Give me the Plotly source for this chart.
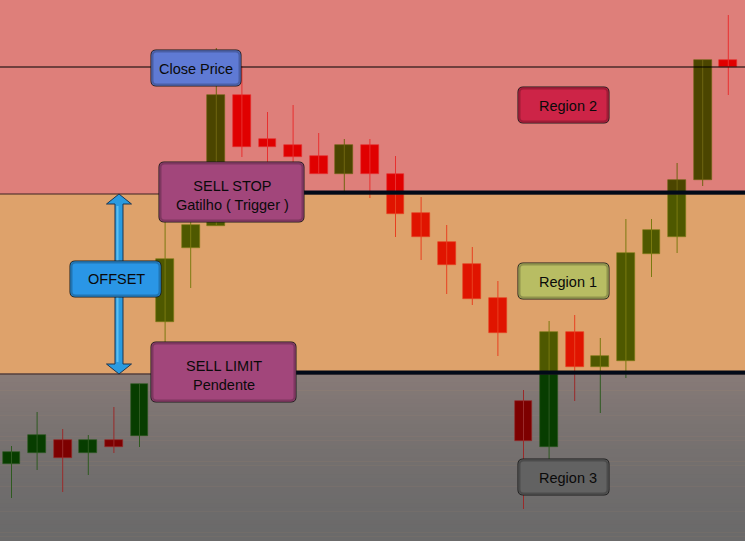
import plotly.graph_objects as go

W, H = 745, 541

# candle data, price units (1 unit ~ 1 px of the chart height)
opens = [77, 88, 101, 88, 101, 105, 219, 293, 315, 446, 402, 396, 385, 367, 396,
         367, 328, 299, 277, 243, 140, 94, 209, 174, 180, 287, 304, 361, 481]
highs = [95, 129, 112, 106, 134, 157, 326, 326, 493, 475, 429, 436, 408, 402, 402,
         385, 344, 316, 294, 260, 151, 220, 226, 203, 322, 322, 378, 481, 526]
lows = [43, 71, 49, 66, 88, 94, 199, 253, 315, 384, 376, 373, 367, 349, 343,
        304, 281, 247, 236, 185, 32, 82, 140, 128, 163, 264, 288, 355, 446]
closes = [89, 106, 83, 101, 94, 157, 282, 316, 446, 394, 394, 384, 367, 396, 367,
          327, 304, 276, 242, 208, 100, 209, 174, 185, 288, 311, 361, 481, 474]

CLOSE_PRICE = 474
SELL_STOP = 347
SELL_LIMIT = 167
TOP = 541

# region: low, high, bull body, bull wick, bear body, bear wick
regions = [
    (SELL_STOP, TOP, "#4b4500", "#6e6410", "#e00000", "#e83030"),
    (SELL_LIMIT, SELL_STOP, "#4e5800", "#7a7a10", "#e01400", "#e84020"),
    (0, SELL_LIMIT, "#073d00", "#2e5a20", "#7d0000", "#9a2a2a"),
]

X0 = -11.5 / 25.6
X1 = (W - 11.5) / 25.6


def px(x):
    return x / W


def py(y):
    return 1 - y / H


def rbox(x0, y0, x1, y1, r=5):
    p = lambda x, y: f"{px(x):.5f},{py(y):.5f}"
    return (f"M{p(x0 + r, y0)} L{p(x1 - r, y0)} Q{p(x1, y0)} {p(x1, y0 + r)} "
            f"L{p(x1, y1 - r)} Q{p(x1, y1)} {p(x1 - r, y1)} L{p(x0 + r, y1)} "
            f"Q{p(x0, y1)} {p(x0, y1 - r)} L{p(x0, y0 + r)} Q{p(x0, y0)} {p(x0 + r, y0)} Z")


def mix(c0, c1, t):
    a = [int(c0[i:i + 2], 16) for i in (1, 3, 5)]
    b = [int(c1[i:i + 2], 16) for i in (1, 3, 5)]
    return "#" + "".join(f"{round(u + (v - u) * t):02x}" for u, v in zip(a, b))


fig = go.Figure()

shapes = []
# backgrounds (below the candles)
shapes.append(dict(type="rect", xref="paper", yref="y", x0=0, x1=1, y0=SELL_STOP, y1=TOP,
                   fillcolor="#de7f7a", line_width=0, layer="below"))
shapes.append(dict(type="rect", xref="paper", yref="y", x0=0, x1=1, y0=SELL_LIMIT,
                   y1=SELL_STOP, fillcolor="#dea26b", line_width=0, layer="below"))
nb = 40
for k in range(nb):
    y0 = SELL_LIMIT * k / nb
    y1 = SELL_LIMIT * (k + 1) / nb + 0.5
    shapes.append(dict(type="rect", xref="paper", yref="y", x0=0, x1=1, y0=y0, y1=y1,
                       fillcolor=mix("#6b6a6a", "#887b78", (k / nb) ** 1.6),
                       line_width=0, layer="below"))

# candles, split by region so each part takes the region's tint
for lo, hi, bull_b, bull_w, bear_b, bear_w in regions:
    for bull, body_c, wick_c in ((True, bull_b, bull_w), (False, bear_b, bear_w)):
        wx, wy, bx, bbase, bh = [], [], [], [], []
        for i, (o, h, l, c) in enumerate(zip(opens, highs, lows, closes)):
            if (c >= o) != bull:
                continue
            wl, wh = max(l, lo), min(h, hi)
            if wh <= wl:
                continue
            wx += [i, i, None]
            wy += [wl, wh, None]
            b0, b1 = max(min(o, c), lo), min(max(o, c), hi)
            if b1 > b0:
                bx.append(i)
                bbase.append(b0)
                bh.append(b1 - b0)
        fig.add_trace(go.Scatter(x=wx, y=wy, mode="lines", hoverinfo="skip",
                                 line=dict(color=wick_c, width=1)))
        fig.add_trace(go.Bar(x=bx, y=bh, base=bbase, width=0.7, hoverinfo="skip",
                             marker=dict(color=body_c, line=dict(color=wick_c, width=0.6))))

# level lines
for lvl in (SELL_STOP, SELL_LIMIT):
    shapes.append(dict(type="line", xref="paper", yref="y", x0=0, x1=1, y0=lvl, y1=lvl,
                       line=dict(color="#3a2222", width=1), layer="above"))
shapes.append(dict(type="line", xref="paper", yref="y", x0=0, x1=1,
                   y0=CLOSE_PRICE, y1=CLOSE_PRICE, line=dict(color="#000000", width=1),
                   layer="above"))
shapes.append(dict(type="line", xref="paper", yref="y", x0=px(304), x1=1,
                   y0=SELL_STOP + 1.5, y1=SELL_STOP + 1.5,
                   line=dict(color="#020a18", width=4), layer="above"))
shapes.append(dict(type="line", xref="paper", yref="y", x0=px(296), x1=1,
                   y0=SELL_LIMIT + 1.5, y1=SELL_LIMIT + 1.5,
                   line=dict(color="#020a18", width=4), layer="above"))

# double arrow between the two levels
ax, hw, sw, hl = 119, 12.5, 4, 10
t, b = SELL_STOP, SELL_LIMIT
pts = [(ax, t), (ax - hw, t - hl), (ax - sw, t - hl), (ax - sw, b + hl), (ax - hw, b + hl),
       (ax, b), (ax + hw, b + hl), (ax + sw, b + hl), (ax + sw, t - hl), (ax + hw, t - hl)]
path = "M" + " L".join(f"{px(x):.5f},{y}" for x, y in pts) + " Z"
shapes.append(dict(type="path", xref="paper", yref="y", path=path,
                   fillcolor="#2a9be0", line=dict(color="#1c3550", width=1), layer="above"))
shapes.append(dict(type="line", xref="paper", yref="y", x0=px(ax - 1.5), x1=px(ax - 1.5),
                   y0=b + hl + 2, y1=t - hl - 2,
                   line=dict(color="#5cc0f2", width=2), layer="above"))

# label boxes: x0, y0, x1, y1 (px), fill, text, text centre
boxes = [
    (151, 50, 241, 86, "#5f7ad4", "Close Price", 196, 69),
    (159, 162, 304, 222, "#a2467b", "SELL STOP<br>Gatilho ( Trigger )", 232, 195),
    (70, 261, 161, 297, "#2a96e6", "OFFSET", 116, 279),
    (151, 342, 296, 402, "#a2467b", "SELL LIMIT<br>Pendente", 224, 375),
    (518, 87, 609, 123, "#cd2447", "Region 2", 568, 106),
    (518, 263, 609, 299, "#b8bd63", "Region 1", 568, 282),
    (518, 459, 609, 495, "#626262", "Region 3", 568, 478),
]
annotations = []
for x0, y0, x1, y1, fill, text, tx, ty in boxes:
    shapes.append(dict(type="path", xref="paper", yref="paper", path=rbox(x0, y0, x1, y1),
                       fillcolor=fill, line=dict(color="#1a1a1a", width=1), layer="above"))
    # soft bevel just inside the border
    shapes.append(dict(type="path", xref="paper", yref="paper",
                       path=rbox(x0 + 1.5, y0 + 1.5, x1 - 1.5, y1 - 1.5, r=4),
                       line=dict(color=mix(fill, "#000000", 0.22), width=2), layer="above"))
    annotations.append(dict(xref="paper", yref="paper", x=px(tx), y=py(ty), text=text,
                            showarrow=False, xanchor="center", yanchor="middle",
                            font=dict(family="Liberation Sans", size=14.5, color="#0a0a0a")))

fig.update_layout(
    width=W, height=H, margin=dict(l=0, r=0, t=0, b=0),
    paper_bgcolor="#dea26b", plot_bgcolor="#dea26b",
    showlegend=False, barmode="overlay", bargap=0,
    xaxis=dict(range=[X0, X1], visible=False, fixedrange=True),
    yaxis=dict(range=[0, TOP], visible=False, fixedrange=True),
    shapes=shapes, annotations=annotations)

fig.write_html("out.html", config={"displayModeBar": False},
               post_script="document.body.style.margin='0';")
